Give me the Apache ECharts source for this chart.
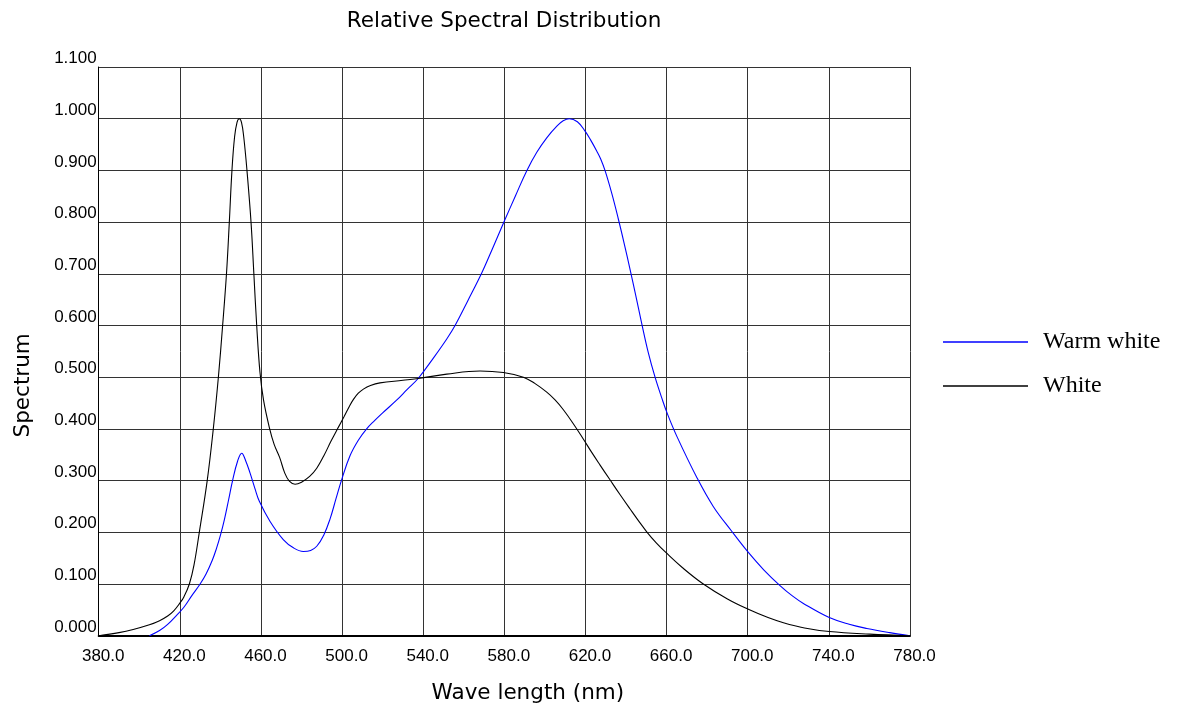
<!DOCTYPE html>
<html>
<head>
<meta charset="utf-8">
<script src="https://cdn.jsdelivr.net/npm/echarts@6/dist/echarts.min.js"></script>
<style>
html,body{margin:0;padding:0;background:#fff;}
#chart{width:1182px;height:711px;}
</style>
</head>
<body>
<div id="chart"></div>
<script>
// ---- data ----
const seriesNames = ['Warm white', 'White'];

const warmNm = [405,410,414,418.5,422,426,430,433,436,438,440,442,444,446,448.5,450.5,452.5,454.6,457,459.2,464.5,471,476,480.9,484.5,487.5,491,494,497,499.8,503.9,508,512.1,516,520,527,532,537.6,545,551.6,555.7,562,568.9,574.5,580,585.5,591,596,600.9,606,609,612,616,619.8,622.5,625.6,627.5,629.7,633,636.2,639,642,644.8,647.5,651,654.3,657.6,660.5,665,674.9,683,692.1,700.3,708,715.9,722,728,740.2,750,758.7,770,780];
const warmVal = [0.000,0.010,0.022,0.040,0.055,0.078,0.100,0.120,0.146,0.168,0.194,0.225,0.262,0.300,0.338,0.353,0.338,0.315,0.285,0.260,0.221,0.186,0.170,0.163,0.165,0.173,0.195,0.225,0.265,0.302,0.348,0.378,0.400,0.416,0.431,0.456,0.476,0.498,0.537,0.574,0.600,0.648,0.702,0.752,0.802,0.851,0.899,0.935,0.963,0.986,0.996,1.000,0.994,0.976,0.959,0.937,0.922,0.899,0.855,0.806,0.760,0.708,0.658,0.608,0.547,0.500,0.460,0.428,0.386,0.306,0.250,0.202,0.161,0.127,0.097,0.077,0.061,0.035,0.022,0.014,0.006,0.000];

const whiteNm = [380,390,397,405,410,414,417,420,422,424.7,427,429.6,433.5,436.5,439,441.1,443,444.4,445.7,447,448.2,449.3,450.4,451.5,453.1,455.1,456.5,457.9,459.5,461.3,464.3,466.5,469.2,471.7,474,476.8,480,484,487.5,491,494.5,498,501,503.5,505.6,508,510.5,514,518.7,530,538.4,551.6,568,579.5,589.4,595,600.9,605,609.1,614,619,623,627.2,632,637,642,646,650.2,655,659.6,668,678.1,690,700.3,710,717.6,728,740.2,760,780];
const whiteVal = [0.000,0.006,0.012,0.021,0.029,0.038,0.048,0.063,0.075,0.100,0.137,0.200,0.300,0.400,0.500,0.600,0.700,0.800,0.900,0.965,0.993,1.000,0.993,0.965,0.900,0.800,0.700,0.600,0.510,0.455,0.400,0.370,0.345,0.315,0.299,0.293,0.297,0.308,0.324,0.348,0.376,0.402,0.424,0.443,0.457,0.469,0.477,0.484,0.489,0.494,0.498,0.506,0.512,0.509,0.500,0.488,0.471,0.456,0.437,0.410,0.380,0.355,0.330,0.302,0.273,0.245,0.223,0.201,0.179,0.161,0.131,0.100,0.071,0.051,0.035,0.025,0.015,0.008,0.003,0.000];

const xMin = 380, xMax = 780, xStep = 40;
const yMin = 0, yMax = 1.1, yStep = 0.1;

const titleText = 'Relative Spectral Distribution';
const xName = 'Wave length (nm)';
const yName = 'Spectrum';

function zip(a, b) { return a.map((v, i) => [v, b[i]]); }

const chart = echarts.init(document.getElementById('chart'), null, {renderer: 'canvas'});
const sansBig = 'DejaVu Sans';
const sans = 'Liberation Sans, Arial, sans-serif';

chart.setOption({
  backgroundColor: '#ffffff',
  animation: false,
  title: {
    text: titleText,
    left: 499,
    top: 5,
    textAlign: 'center',
    textStyle: {fontFamily: sansBig, fontSize: 21.5, fontWeight: 'normal', color: '#000'}
  },
  legend: {
    orient: 'vertical',
    left: 938,
    top: 325,
    itemWidth: 85,
    itemHeight: 1.3,
    itemGap: 20,
    icon: 'rect',
    data: seriesNames,
    textStyle: {fontFamily: 'Liberation Serif, Times New Roman, serif', fontSize: 24, lineHeight: 24, color: '#000', padding: [0, 0, 0, 10]}
  },
  grid: {left: 98.7, right: 272, top: 67, bottom: 75.3, containLabel: false, outerBoundsMode: 'none'},
  xAxis: {
    type: 'value',
    min: xMin, max: xMax, interval: xStep,
    name: xName,
    nameLocation: 'middle',
    nameGap: 47,
    nameTextStyle: {fontFamily: sansBig, fontSize: 21.5, color: '#000', padding: [0, 0, 0, 47]},
    axisLine: {show: true, lineStyle: {color: '#000', width: 2}},
    axisTick: {show: false},
    axisLabel: {
      margin: 12, fontFamily: sans, fontSize: 17, lineHeight: 17, color: '#000',
      padding: [0, 0, 0, 9],
      showMinLabel: true, showMaxLabel: true,
      formatter: v => v.toFixed(1)
    },
    splitLine: {show: true, lineStyle: {color: '#333', width: 1}}
  },
  yAxis: {
    type: 'value',
    min: yMin, max: yMax, interval: yStep,
    name: yName,
    nameLocation: 'middle',
    nameGap: 64,
    nameRotate: 90,
    nameTextStyle: {fontFamily: sansBig, fontSize: 21.5, color: '#000', padding: [0, 68, 0, 0]},
    axisLine: {show: true, lineStyle: {color: '#000', width: 1}},
    axisTick: {show: false},
    axisLabel: {
      margin: 2, fontFamily: sans, fontSize: 17, lineHeight: 17, color: '#000',
      verticalAlign: 'bottom',
      showMinLabel: true, showMaxLabel: true,
      formatter: v => v.toFixed(3)
    },
    splitLine: {show: true, lineStyle: {color: '#333', width: 1}}
  },
  series: [
    {
      name: seriesNames[0], type: 'line', data: zip(warmNm, warmVal),
      showSymbol: false, symbol: 'none', smooth: 0.4,
      color: '#0000ff', itemStyle: {color: '#0000ff'},
      lineStyle: {color: '#0000ff', width: 1.1}
    },
    {
      name: seriesNames[1], type: 'line', data: zip(whiteNm, whiteVal),
      showSymbol: false, symbol: 'none', smooth: 0.4,
      color: '#000000', itemStyle: {color: '#000000'},
      lineStyle: {color: '#000000', width: 1.1}
    }
  ]
});
</script>
</body>
</html>
